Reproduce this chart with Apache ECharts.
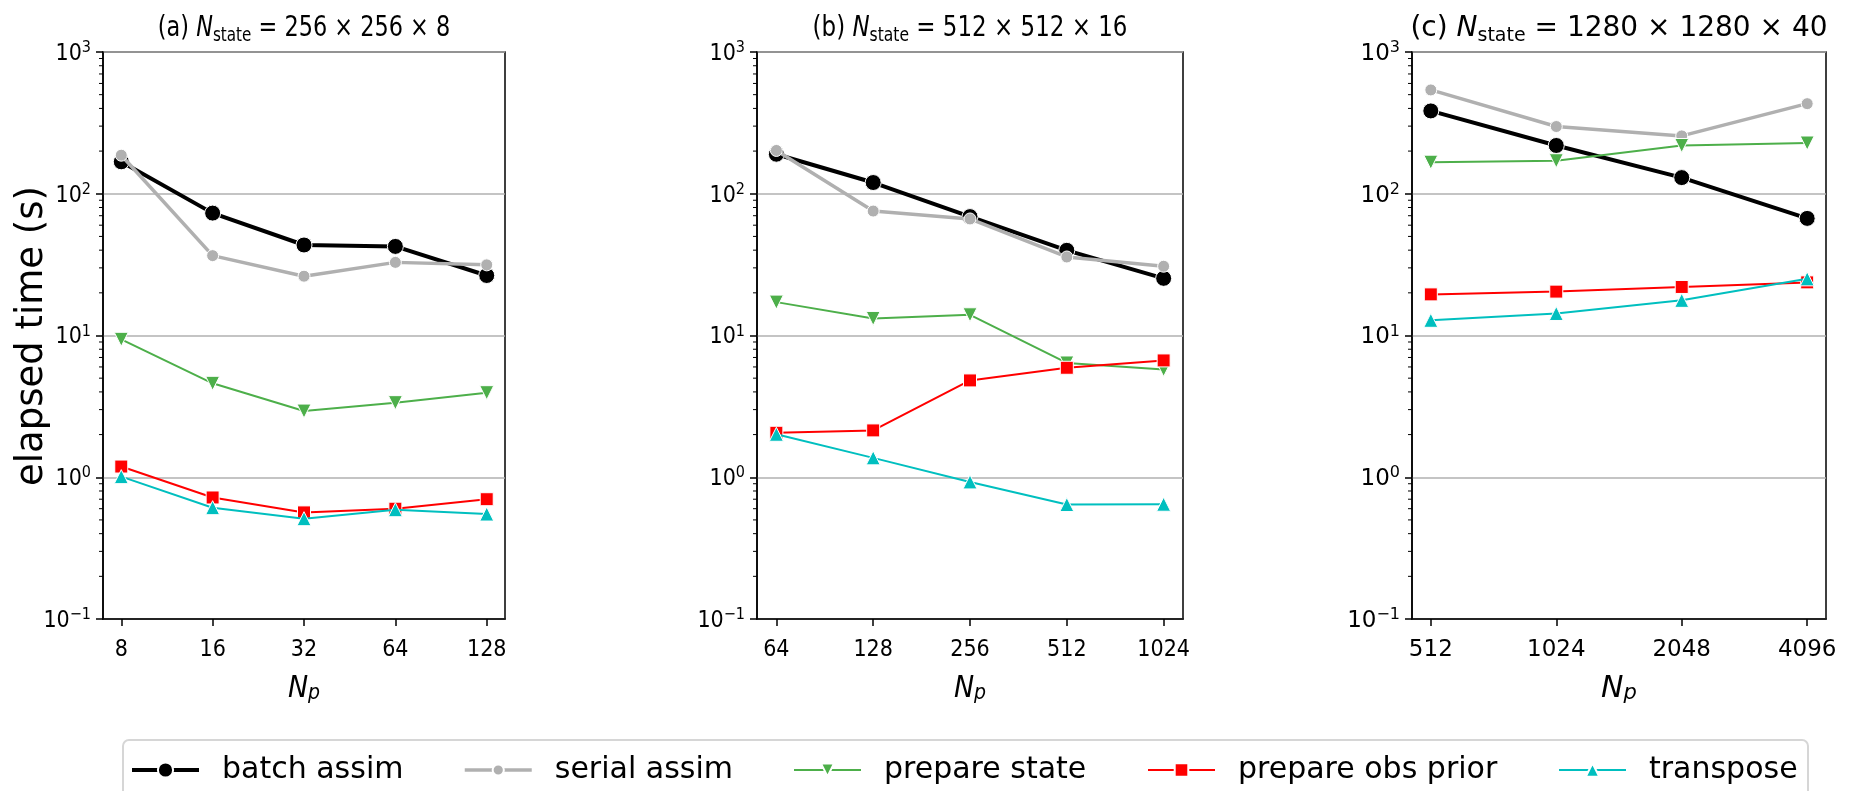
<!DOCTYPE html>
<html><head><meta charset="utf-8">
<script src="https://cdn.jsdelivr.net/npm/echarts@6/dist/echarts.min.js"></script>
<style>html,body{margin:0;padding:0;background:#fff}#chart{width:1864px;height:791px}</style>
</head><body><div id="chart"></div>
<script>
// ---------------- data ----------------
const seriesNames = ['batch assim', 'serial assim', 'prepare state', 'prepare obs prior', 'transpose'];
const panelTitles = ['(a) {i|N}{s|state} = 256 \u00d7 256 \u00d7 8',
                     '(b) {i|N}{s|state} = 512 \u00d7 512 \u00d7 16',
                     '(c) {i|N}{s|state} = 1280 \u00d7 1280 \u00d7 40'];
const npA = [8, 16, 32, 64, 128];
const npB = [64, 128, 256, 512, 1024];
const npC = [512, 1024, 2048, 4096];

const batchA  = [168, 73, 43.5, 42.5, 26.5];
const serialA = [187, 36.6, 26.2, 32.8, 31.5];
const stateA  = [9.4, 4.6, 2.93, 3.36, 3.95];
const obsA    = [1.19, 0.72, 0.565, 0.60, 0.70];
const transA  = [1.01, 0.61, 0.51, 0.59, 0.55];

const batchB  = [190, 120, 69, 39.9, 25.3];
const serialB = [202, 75.5, 66.4, 35.8, 30.8];
const stateB  = [17.2, 13.2, 14.0, 6.4, 5.76];
const obsB    = [2.06, 2.14, 4.82, 5.92, 6.67];
const transB  = [2.01, 1.37, 0.927, 0.642, 0.645];

const batchC  = [384, 219, 130, 67];
const serialC = [540, 298, 256, 432];
const stateC  = [167, 171, 219, 228];
const obsC    = [19.5, 20.4, 22.0, 23.7];
const transC  = [12.8, 14.3, 17.7, 25.1];

const yMin = 0.1, yMax = 1000;
const minorTickValues = [0.2,0.3,0.4,0.5,0.6,0.7,0.8,0.9, 2,3,4,5,6,7,8,9,
                         20,30,40,50,60,70,80,90, 200,300,400,500,600,700,800,900];

// ---------------- styles / layout ----------------
const normalFont = "'DejaVu Sans', sans-serif";
const condFont = "'DejaVu Sans Condensed', 'DejaVu Sans', sans-serif";
const panelFonts = [condFont, condFont, normalFont];
const titleScaleX = [0.8, 0.82, 1];
const grids = [
  {left: 103, top: 52, width: 402, height: 567},
  {left: 757, top: 52, width: 426, height: 567},
  {left: 1412, top: 52, width: 414, height: 567}
];
const styles = [
  {color: '#000000', width: 4, symbol: 'circle', size: 16, rotate: 0, legendH: 19},
  {color: '#b0b0b0', width: 3.5, symbol: 'circle', size: 12, rotate: 0, legendH: 14},
  {color: '#4daf4a', width: 2, symbol: 'triangle', size: 14, rotate: 180, legendH: 16},
  {color: '#ff0000', width: 2, symbol: 'rect', size: 13, rotate: 0, legendH: 17},
  {color: '#00bfbf', width: 2, symbol: 'triangle', size: 14, rotate: 0, legendH: 17}
];
const legendLefts = [125, 458, 788, 1142, 1553];

const panels = [
  {np: npA, vals: [batchA, serialA, stateA, obsA, transA]},
  {np: npB, vals: [batchB, serialB, stateB, obsB, transB]},
  {np: npC, vals: [batchC, serialC, stateC, obsC, transC]}
];

const xAxes = [], yAxes = [], series = [], graphics = [];
panels.forEach((p, i) => {
  const font = panelFonts[i];
  const ex = p.np.map(x => Math.log2(x));           // base-2 log axis positions
  const lo = ex[0], hi = ex[ex.length - 1];
  const pad = (hi - lo) * 0.05;
  xAxes.push({
    type: 'value', gridIndex: i, min: lo - pad, max: hi + pad,
    axisLine: {show: true, onZero: false, lineStyle: {color: '#000', width: 1.5}},
    axisTick: {show: true, length: 7, customValues: ex, lineStyle: {color: '#000', width: 1.5}},
    axisLabel: {margin: 20, fontSize: 23, color: '#000', fontFamily: font, customValues: ex,
      formatter: v => Math.abs(v - Math.round(v)) < 1e-6 ? String(Math.round(Math.pow(2, v))) : ''},
    splitLine: {show: false},
    name: '{n|N}{p|p}', nameLocation: 'middle', nameGap: 54,
    nameTextStyle: {rich: {
      n: {fontSize: 30, fontStyle: 'italic', fontFamily: font, color: '#000', lineHeight: 32},
      p: {fontSize: 21, fontStyle: 'italic', fontFamily: font, color: '#000', lineHeight: 22, padding: [10, 0, 0, 0]}
    }}
  });
  yAxes.push({
    type: 'log', logBase: 10, gridIndex: i, min: yMin, max: yMax,
    axisLine: {show: true, onZero: false, lineStyle: {color: '#000', width: 1.5}},
    axisTick: {show: true, length: 7, lineStyle: {color: '#000', width: 1.5}},
    axisLabel: {margin: 12, color: '#000',
      formatter: v => { const e = Math.round(Math.log10(v)); return '{b|10}{e|' + (e < 0 ? '\u2212' + (-e) : e) + '}'; },
      rich: {
        b: {fontSize: 23, fontFamily: font, color: '#000', lineHeight: 24, padding: [4, 0, 0, 0]},
        e: {fontSize: 16, fontFamily: font, color: '#000', lineHeight: 18, padding: [0, 0, 8, 0]}
      }},
    splitLine: {show: true, lineStyle: {color: '#b0b0b0', width: 1.5}}
  });
  const g = grids[i];
  graphics.push({
    type: 'text', z: 5, x: g.left + g.width / 2, y: 29, scaleX: titleScaleX[i],
    style: {
      text: panelTitles[i], fill: '#000', fontSize: 28, fontFamily: normalFont, lineHeight: 30,
      align: 'center', verticalAlign: 'middle', textAlign: 'center', textVerticalAlign: 'middle',
      rich: {
        i: {fontSize: 28, fontStyle: 'italic', fontFamily: normalFont, fill: '#000', lineHeight: 30},
        s: {fontSize: 19, fontFamily: normalFont, fill: '#000', lineHeight: 20, padding: [14, 0, 0, 0]}
      }
    }
  });
  // minor ticks of the log y axis
  series.push({
    type: 'custom', xAxisIndex: i, yAxisIndex: i, silent: true, clip: false, z: 10,
    data: minorTickValues.map(v => [lo, v]),
    renderItem: (params, api) => {
      const y = api.coord([api.value(0), api.value(1)])[1];
      const x0 = params.coordSys.x;
      return {type: 'line', shape: {x1: x0 - 4, y1: y, x2: x0, y2: y}, style: {stroke: '#000', lineWidth: 1}};
    }
  });
  p.vals.forEach((vals, k) => {
    const st = styles[k];
    series.push({
      type: 'line', name: seriesNames[k], xAxisIndex: i, yAxisIndex: i,
      data: ex.map((x, j) => [x, vals[j]]),
      symbol: st.symbol, symbolSize: st.size, symbolRotate: st.rotate,
      lineStyle: {color: st.color, width: st.width},
      itemStyle: {color: st.color, borderColor: '#ffffff', borderWidth: 1},
      z: 2 + k, showSymbol: true, clip: false
    });
  });
});

const legends = seriesNames.map((n, k) => ({
  data: [n], left: legendLefts[k], top: 750, orient: 'horizontal',
  itemWidth: 67, itemHeight: styles[k].legendH, padding: 5, selectedMode: false,
  lineStyle: {width: styles[k].width, color: styles[k].color},
  textStyle: {fontSize: 30, color: '#000', fontFamily: normalFont, padding: [0, 0, 0, 18]}
}));

graphics.push(
  {type: 'rect', z: 1, shape: {x: 123, y: 740, width: 1685, height: 90, r: 6},
   style: {fill: '#ffffff', stroke: '#d6d6d6', lineWidth: 2}},
  {type: 'text', z: 1, x: 32, y: 336, rotation: Math.PI / 2,
   style: {text: 'elapsed time (s)', font: '37px "DejaVu Sans"', fill: '#000',
           align: 'center', verticalAlign: 'middle', textAlign: 'center', textVerticalAlign: 'middle'}}
);

const option = {
  animation: false,
  backgroundColor: '#ffffff',
  grid: grids.map(g => Object.assign({show: true, borderColor: '#000', borderWidth: 1.5, backgroundColor: 'transparent', containLabel: false}, g)),
  xAxis: xAxes,
  yAxis: yAxes,
  legend: legends,
  graphic: graphics,
  series: series
};
const chart = echarts.init(document.getElementById('chart'), null, {renderer: 'canvas'});
chart.setOption(option);
</script>
</body></html>
